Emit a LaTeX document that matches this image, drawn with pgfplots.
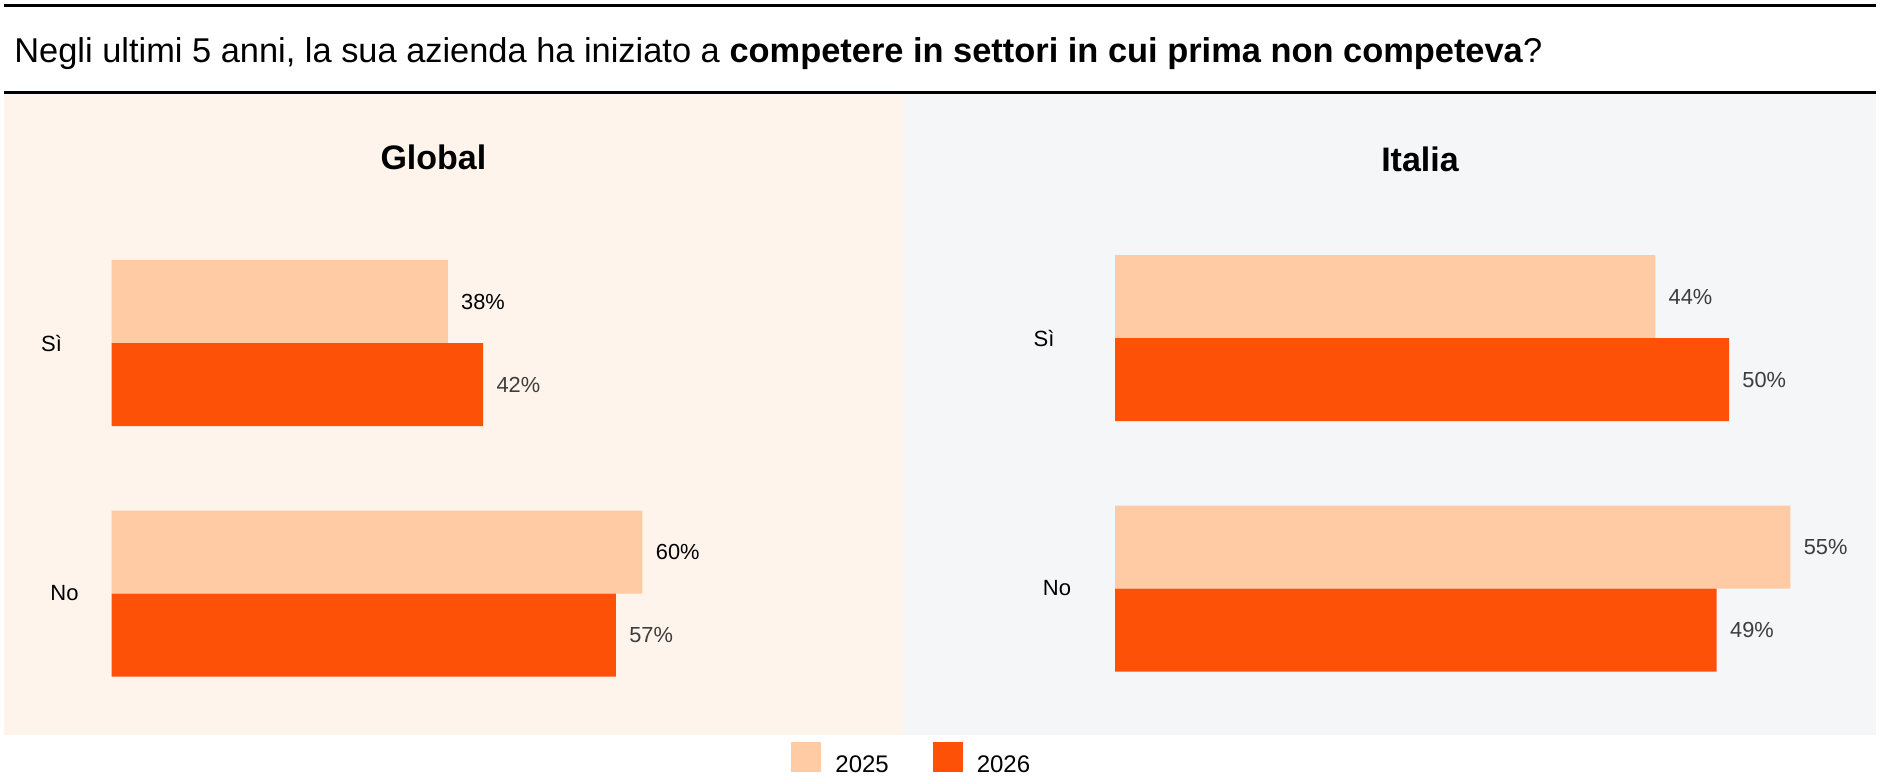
\documentclass[border=0pt]{standalone}
\usepackage{fontspec}
\setmainfont{Liberation Sans}
\usepackage{pgfplots}
\pgfplotsset{compat=1.18}
\definecolor{c25}{HTML}{FFCBA4}
\definecolor{c26}{HTML}{FD5108}
\definecolor{bgL}{HTML}{FEF4EC}
\definecolor{bgR}{HTML}{F5F6F8}
\definecolor{lab}{HTML}{3D3D3D}

\pgfplotsset{
 panel/.style={
  scale only axis, anchor=south west, height=250.5pt,
  xbar, bar width=41.5pt, xmin=0, ymin=-0.5, ymax=1.5,
  axis line style={draw=none}, tick style={draw=none}, major tick length=0pt,
  xtick=\empty, ytick={0,1},
  yticklabels={\hspace*{13pt}No, Sì},
  yticklabel style={anchor=center, inner sep=0pt, font=\fontsize{11}{13}\selectfont, text=black},
  clip=false,
  point meta=x,
  nodes near coords={\pgfmathprintnumber{\pgfplotspointmeta}\%},
  /pgf/number format/assume math mode=true,
  every node near coord/.append style={anchor=west, inner sep=0pt, xshift=6.5pt, font=\fontsize{10.9}{13}\selectfont, text=lab},
 },
 s25/.style={fill=c25, draw=none, bar shift=20.75pt},
 s26/.style={fill=c26, draw=none, bar shift=-20.75pt},
}

\begin{document}
\begin{tikzpicture}
\useasboundingbox (0,0) rectangle (940pt,-389pt);
% panels
\fill[bgL] (2pt,-47pt) rectangle (451.5pt,-367.5pt);
\fill[bgR] (451.5pt,-47pt) rectangle (938pt,-367.5pt);
% rules
\draw[line width=1.5pt] (2pt,-2.65pt) -- (938pt,-2.65pt);
\draw[line width=1.5pt] (2pt,-46.25pt) -- (938pt,-46.25pt);
% title
\node[anchor=base west, inner sep=0pt, font=\fontsize{17.2}{20}\selectfont] at (7pt,-31pt)
 {Negli ultimi 5 anni, la sua azienda ha iniziato a \textbf{competere in settori in cui prima non competeva}?};
\node[anchor=base, inner sep=0pt, font=\fontsize{17}{20}\selectfont\bfseries] at (216.7pt,-84.65pt) {Global};
\node[anchor=base, inner sep=0pt, font=\fontsize{17}{20}\selectfont\bfseries] at (710pt,-85.5pt) {Italia};

\begin{axis}[panel, at={(55.75pt,-359.375pt)}, width=265.5pt, xmax=60,
  yticklabel style={xshift=-30pt},
  legend columns=2,
  legend style={at={(axis description cs:1.2797,-0.0803)}, anchor=west, draw=none, fill=none, inner sep=0pt,
    nodes={inner sep=0pt, text=black, font=\fontsize{12}{14}\selectfont},
    /tikz/every odd column/.append style={column sep=7pt},
    /tikz/every even column/.append style={column sep=22pt}},
  legend image code/.code={\fill[#1] (0pt,-3.2pt) rectangle (15pt,11.8pt);},
]
\addplot[s25, every node near coord/.append style={text=black}] coordinates {(38,1) (60,0)};
\addlegendentry{2025}
\addplot[s26] coordinates {(42,1) (57,0)};
\addlegendentry{2026}
\end{axis}

\begin{axis}[panel, at={(557.5pt,-356.875pt)}, width=337.7pt, xmax=55,
  yticklabel style={xshift=-35.5pt}]
\addplot[s25] coordinates {(44,1) (55,0)};
\addplot[s26] coordinates {(50,1) (49,0)};
\end{axis}
\end{tikzpicture}
\end{document}
